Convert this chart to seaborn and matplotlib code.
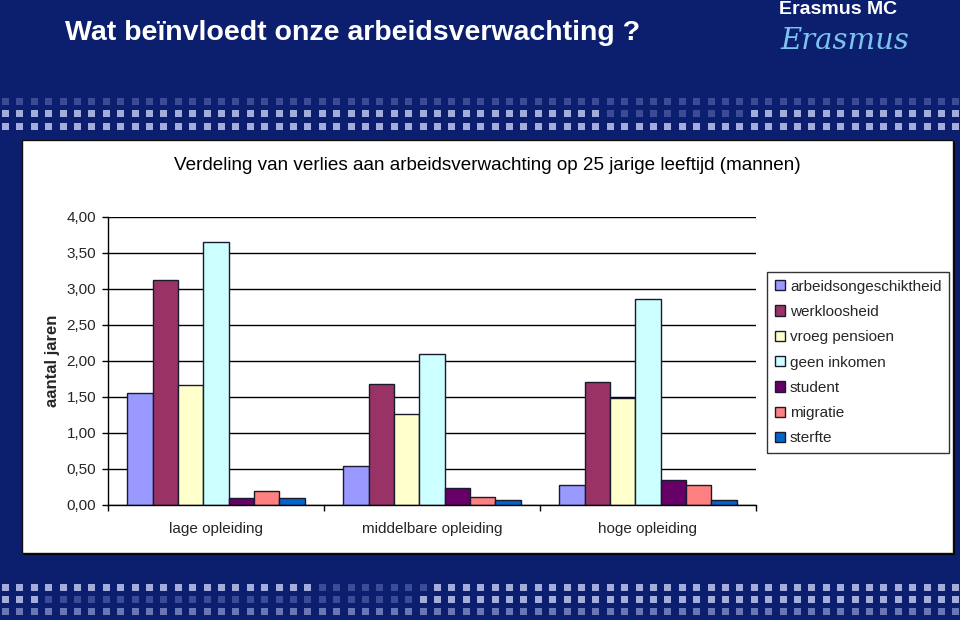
import matplotlib
matplotlib.use("Agg")
import matplotlib.pyplot as plt
import seaborn as sns
import pandas as pd
from matplotlib.patches import Rectangle

# ---------------- data ----------------
categories = ["lage opleiding", "middelbare opleiding", "hoge opleiding"]
series = ["arbeidsongeschiktheid", "werkloosheid", "vroeg pensioen",
          "geen inkomen", "student", "migratie", "sterfte"]
arbeidsongeschiktheid = [1.56, 0.54, 0.28]
werkloosheid = [3.13, 1.68, 1.71]
vroeg_pensioen = [1.67, 1.26, 1.49]
geen_inkomen = [3.65, 2.10, 2.86]
student = [0.10, 0.24, 0.35]
migratie = [0.20, 0.11, 0.28]
sterfte = [0.10, 0.07, 0.07]
colors = ["#9999FF", "#993366", "#FFFFCC", "#CCFFFF", "#660066", "#FF8080", "#0066CC"]
yticks = [0.0, 0.5, 1.0, 1.5, 2.0, 2.5, 3.0, 3.5, 4.0]
ytick_labels = ["0,00", "0,50", "1,00", "1,50", "2,00", "2,50", "3,00", "3,50", "4,00"]

values = [arbeidsongeschiktheid, werkloosheid, vroeg_pensioen, geen_inkomen,
          student, migratie, sterfte]
rows = []
for s, vals in zip(series, values):
    for c, v in zip(categories, vals):
        rows.append({"opleiding": c, "oorzaak": s, "jaren": v})
df = pd.DataFrame(rows)

# ---------------- figure ----------------
sns.set_theme(style="white")
plt.rcParams["font.family"] = ["Liberation Sans", "DejaVu Sans"]

W, H = 960, 620
BG = "#0c1f6e"
fig = plt.figure(figsize=(W / 100, H / 100), dpi=100)
fig.patch.set_facecolor(BG)

def fx(px):
    return px / W

def fy(py):
    return 1 - py / H

# decorative square rows (slide background)
bright, medium, dim = "#a3acdb", "#6a77b6", "#3c4b95"
def square_row(yc, color_fn):
    x = 2.0
    while x < W:
        fig.patches.append(Rectangle((fx(x), fy(yc + 3.5)), fx(7), 7 / H,
                                     transform=fig.transFigure, facecolor=color_fn(x),
                                     edgecolor="none", zorder=0))
        x += 14.4

square_row(101, lambda x: dim)
square_row(114, lambda x: dim if 600 <= x <= 747 else bright)
square_row(126, lambda x: bright)
square_row(587, lambda x: dim if 314 <= x <= 428 else bright)
square_row(599, lambda x: dim if 40 <= x <= 414 else bright)
square_row(611, lambda x: medium)

# white chart panel with shadow
fig.patches.append(Rectangle((fx(24), fy(555)), fx(931), 413 / H, transform=fig.transFigure,
                             facecolor="black", edgecolor="none", zorder=1))
fig.patches.append(Rectangle((fx(22), fy(553)), fx(931), 413 / H, transform=fig.transFigure,
                             facecolor="white", edgecolor="#111111", linewidth=1, zorder=2))

# slide title + logo
fig.text(fx(65), fy(33), "Wat beïnvloedt onze arbeidsverwachting ?", color="white",
         fontsize=20.5, fontweight="bold", va="center", ha="left",
         family=["Liberation Sans", "DejaVu Sans"])
fig.text(fx(838), fy(10), "Erasmus MC", color="white", fontsize=14, fontweight="bold",
         ha="center", va="center")
fig.text(fx(845), fy(41), "Erasmus", color="#7cc4ee", fontsize=21, style="italic",
         ha="center", va="center", family=["DejaVu Serif"])

# chart title
fig.text(fx(487), fy(165), "Verdeling van verlies aan arbeidsverwachting op 25 jarige leeftijd (mannen)",
         fontsize=13.6, ha="center", va="center", color="black", zorder=5)

# axes
ax = fig.add_axes([fx(108), fy(505), fx(756 - 108), (505 - 217) / H])
ax.set_facecolor("white")
ax.set_zorder(5)

sns.barplot(data=df, x="opleiding", y="jaren", hue="oorzaak", order=categories,
            hue_order=series, palette=colors, width=0.82, gap=0,
            edgecolor="#1a1a2e", linewidth=1, saturation=1, ax=ax)

ax.set_xlim(-0.5, 2.5)
ax.set_ylim(0, 4)
ax.set_yticks(yticks)
ax.set_yticklabels(ytick_labels, fontsize=11)
ax.yaxis.grid(True, color="black", linewidth=1)
ax.set_axisbelow(True)
for s in ["top", "right"]:
    ax.spines[s].set_visible(False)
for s in ["left", "bottom"]:
    ax.spines[s].set_color("black")
    ax.spines[s].set_linewidth(1)

ax.tick_params(axis="y", which="major", direction="out", length=4.5, width=1,
               color="black", pad=4, left=True)
ax.tick_params(axis="x", which="major", length=0, pad=12, labelsize=11)
ax.set_xticks([-0.5, 0.5, 1.5, 2.5], minor=True)
ax.tick_params(axis="x", which="minor", direction="out", length=4.5, width=1,
               color="black", bottom=True)
ax.set_xlabel("")
ax.set_ylabel("aantal jaren", fontsize=12, fontweight="bold")
ax.yaxis.set_label_coords(-0.074, 0.5)

# legend
handles, labels = ax.get_legend_handles_labels()
if ax.legend_:
    ax.legend_.remove()
leg = fig.legend(handles, labels, loc="upper left", bbox_to_anchor=(fx(767), fy(272)),
                 frameon=True, fancybox=False, edgecolor="black", fontsize=11,
                 handlelength=0.65, handleheight=0.65, handletextpad=0.35,
                 labelspacing=0.74, borderpad=0.5, borderaxespad=0)
leg.get_frame().set_linewidth(1)
leg.set_zorder(6)

fig.savefig("out.png", dpi=100, facecolor=fig.get_facecolor())
